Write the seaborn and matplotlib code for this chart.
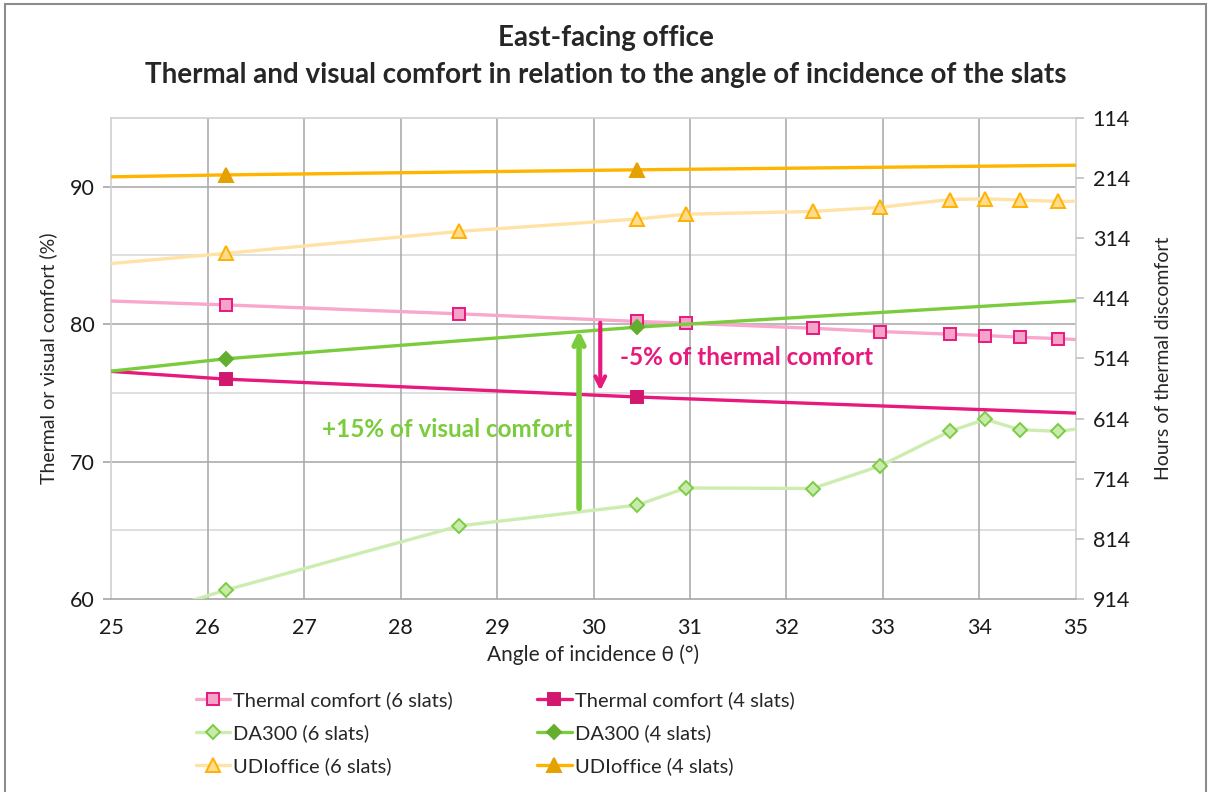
import matplotlib
matplotlib.use('Agg')
import matplotlib.pyplot as plt
import seaborn as sns
from matplotlib.patches import Rectangle

# angles (deg) - the first/last points lie just outside the visible axis range
angles_6 = [24.5, 26.19, 28.61, 30.45, 30.96, 32.27, 32.97, 33.69, 34.06, 34.42, 34.81, 35.5]
thermal_6 = [81.8, 81.4, 80.75, 80.2, 80.07, 79.7, 79.46, 79.27, 79.17, 79.05, 78.95, 78.7]
da300_6 = [57.0, 60.65, 65.32, 66.83, 68.08, 68.04, 69.68, 72.2, 73.07, 72.32, 72.2, 72.8]
udi_6 = [84.1, 85.15, 86.75, 87.65, 88.0, 88.2, 88.5, 89.07, 89.12, 89.03, 88.93, 89.0]

angles_4 = [24.5, 26.19, 30.45, 35.5]
thermal_4 = [76.8, 76.0, 74.7, 73.4]
da300_4 = [76.2, 77.48, 79.78, 81.92]
udi_4 = [90.66, 90.86, 91.23, 91.6]

x_ticks = list(range(25, 36))
comfort_ticks = [60, 70, 80, 90]
hours_ticks = [114, 214, 314, 414, 514, 614, 714, 814, 914]

sns.set_style("white")
plt.rcParams['font.family'] = ['Lato', 'DejaVu Sans']

fig = plt.figure(figsize=(12.11, 7.92), dpi=100)
ax = fig.add_axes([0.0917, 0.2437, 0.7968, 0.6073])

series = [
    # x, y, label, line colour, marker, face, edge, size
    (angles_6, thermal_6, "Thermal comfort (6 slats)", "#F7A8CC", "s", "#F6A3C9", "#E8197D", 9),
    (angles_6, da300_6, "DA300 (6 slats)", "#CDEDB0", "D", "#C8EAAA", "#7DCB45", 7.5),
    (angles_6, udi_6, "UDIoffice (6 slats)", "#FFE3A6", "^", "#FFDB8C", "#FFB100", 10),
    (angles_4, thermal_4, "Thermal comfort (4 slats)", "#E8197D", "s", "#D2176E", "#D2176E", 9),
    (angles_4, da300_4, "DA300 (4 slats)", "#7ACC3C", "D", "#63AE2F", "#63AE2F", 7.5),
    (angles_4, udi_4, "UDIoffice (4 slats)", "#FFB400", "^", "#E5A100", "#E5A100", 10),
]

for xs, ys, label, col, mk, mfc, mec, ms in series:
    sns.lineplot(x=xs, y=ys, ax=ax, label=label, color=col, lw=2.4, sort=False,
                 marker=mk, markersize=ms, markerfacecolor=mfc, markeredgecolor=mec,
                 markeredgewidth=1.4, zorder=3)

ax.set_xlim(25, 35)
ax.set_ylim(60, 95)
ax.set_xticks(x_ticks)
ax.set_yticks(comfort_ticks)
for v in [65, 75, 85]:
    ax.axhline(v, color="#D9D9D9", lw=1.2, zorder=1)
for v in [70, 80, 90]:
    ax.axhline(v, color="#A6A6A6", lw=1.1, zorder=1)
for v in x_ticks[1:-1]:
    ax.axvline(v, color="#A6A6A6", lw=1.1, zorder=1)

for side in ["left", "right", "top"]:
    ax.spines[side].set_color("#D0D0D0")
ax.spines["bottom"].set_color("#A6A6A6")
for sp in ax.spines.values():
    sp.set_linewidth(1.2)
ax.tick_params(axis="both", direction="out", length=6, width=1.2, color="#A6A6A6",
               labelsize=15.5, labelcolor="#1a1a1a", pad=6)
ax.tick_params(axis="x", pad=8)
ax.set_xlabel("Angle of incidence θ (°)", fontsize=15, labelpad=4)
ax.set_ylabel("Thermal or visual comfort (%)", fontsize=14, labelpad=9)

ax2 = ax.twinx()
ax2.set_ylim(914, 114)
ax2.set_yticks(hours_ticks)
ax2.tick_params(axis="y", direction="out", length=6, width=1.2, color="#C0C0C0",
                labelsize=15.5, labelcolor="#1a1a1a", pad=6)
for sp in ax2.spines.values():
    sp.set_visible(False)
ax2.set_ylabel("Hours of thermal discomfort", fontsize=14, labelpad=18)

# annotations
ax.annotate("", xy=(29.85, 79.75), xytext=(29.85, 66.4),
            arrowprops=dict(arrowstyle="->,head_length=0.7,head_width=0.35",
                            color="#7ACC3C", lw=4), zorder=4)
ax.text(29.78, 72.3, "+15% of visual comfort", color="#7ACC3C", fontsize=17.5,
        fontweight="bold", ha="right", va="center")
ax.annotate("", xy=(30.07, 74.95), xytext=(30.07, 80.3),
            arrowprops=dict(arrowstyle="->,head_length=0.7,head_width=0.35",
                            color="#E8197D", lw=3), zorder=4)
ax.text(30.27, 77.6, "-5% of thermal comfort", color="#E8197D", fontsize=17.5,
        fontweight="bold", ha="left", va="center")

handles, labels = ax.get_legend_handles_labels()
ax.legend_.remove()
fig.legend(handles, labels, ncol=2, loc="upper left", bbox_to_anchor=(0.155, 0.138),
           frameon=False, fontsize=14.5, handlelength=1.7, handletextpad=0.15,
           columnspacing=4.2, labelspacing=0.75, borderaxespad=0)

fig.text(0.5, 1 - 38 / 792, "East-facing office", ha="center", va="center",
         fontsize=20, fontweight="bold")
fig.text(0.5, 1 - 75 / 792,
         "Thermal and visual comfort in relation to the angle of incidence of the slats",
         ha="center", va="center", fontsize=20, fontweight="bold")

fig.patches.append(Rectangle((0.004, -0.02), 0.992, 1.015, transform=fig.transFigure,
                             fill=False, edgecolor="#8C8C8C", lw=1.5))

fig.savefig("out.png", dpi=100)
